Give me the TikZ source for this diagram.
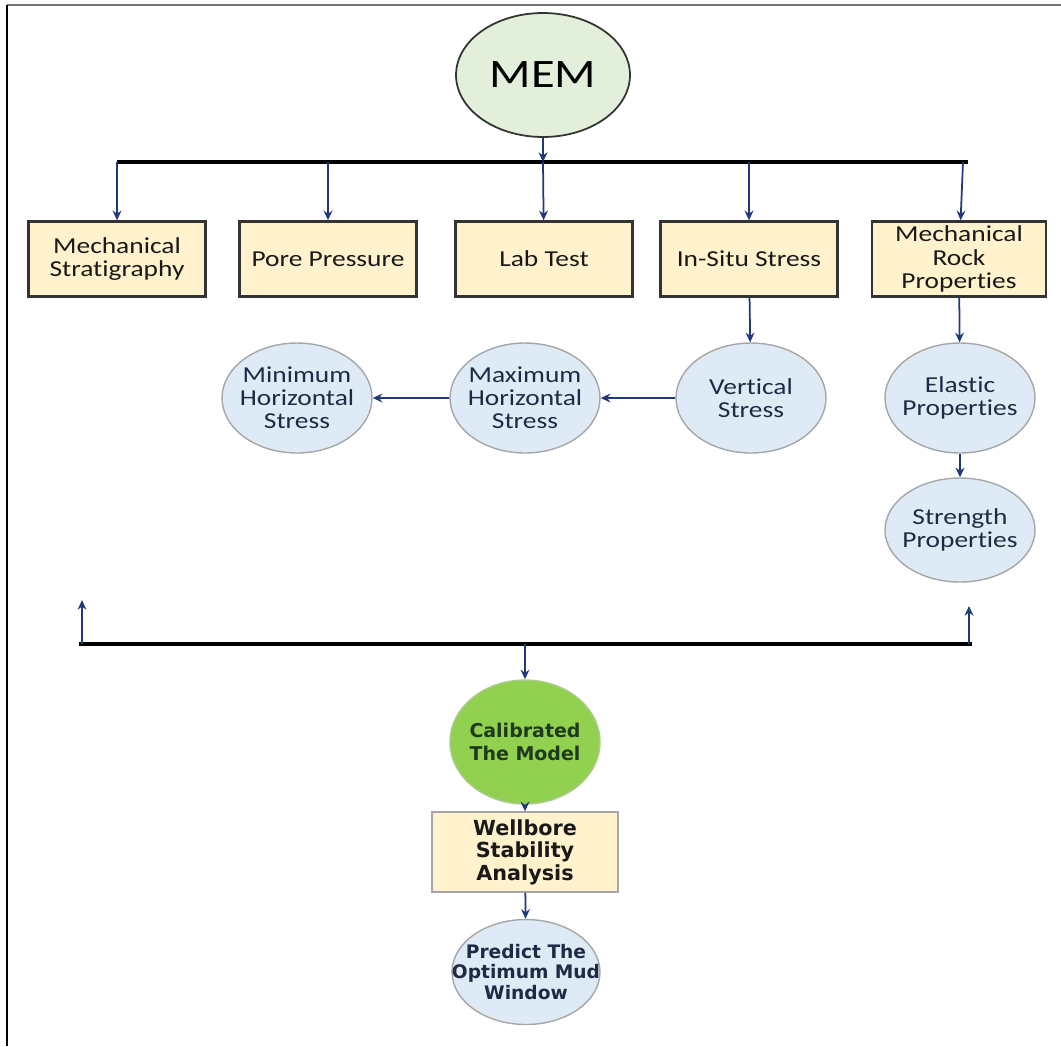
\documentclass[tikz,border=0pt]{standalone}
\usepackage{fontspec}
\setmainfont{Carlito}
\newfontfamily\calib[FakeStretch=1.2,Ligatures=NoCommon]{Carlito}
\newfontfamily\verd{DejaVu Sans}
\usetikzlibrary{arrows.meta,shapes.geometric,positioning}

\definecolor{fondboite}{HTML}{FFF2CC}
\definecolor{fondbulle}{HTML}{DEEBF7}
\definecolor{bleufleche}{HTML}{1F3A7A}
\definecolor{vertclair}{HTML}{E2EFDA}
\definecolor{vertmodele}{HTML}{92D050}
\definecolor{textebulle}{HTML}{1F2A44}
\definecolor{texteverte}{HTML}{1E3A1E}

\newcommand{\fboite}{\calib\fontsize{13}{13.5}\selectfont}
\newcommand{\fbulle}{\calib\fontsize{13}{13}\selectfont}

\tikzset{
  >={Stealth[length=5.5pt,width=5pt]},
  boite/.style={draw=black!80, line width=1.4pt, fill=fondboite,
    minimum width=3.54cm, minimum height=1.5cm, inner sep=1pt,
    align=center, font=\fboite, text=black!90},
  bulle/.style={ellipse, draw=black!35, line width=0.8pt, fill=fondbulle,
    minimum width=3cm, minimum height=2.2cm, inner ysep=0pt, inner xsep=-15pt,
    align=center, font=\fbulle, text=textebulle},
  fleche/.style={->, draw=bleufleche, line width=1pt},
  bus/.style={line width=2pt, black}
}

\begin{document}
\begin{tikzpicture}[x=0.02cm,y=-0.02cm]
  \useasboundingbox (0,0) rectangle (1061,1046);

  % Le cadre
  \draw[black!55, line width=0.8pt] (7,5) -- (1061,5);
  \draw[black, line width=0.8pt] (7,5) -- (7,1046);

  % Le modele
  \node[ellipse, draw=black!80, line width=1pt, fill=vertclair,
    minimum width=3.48cm, minimum height=2.48cm, inner sep=0pt,
    font=\calib\fontsize{23}{25}\selectfont] (mem) at (543,75) {MEM};

  % Les boites
  \node[boite] (strati) at (117,259) {Mechanical\\Stratigraphy};
  \node[boite] (pore) at (328,259) {Pore Pressure};
  \node[boite] (labo) at (544,259) {Lab Test};
  \node[boite] (insitu) at (749,259) {In-Situ Stress};
  \node[boite, minimum width=3.48cm] (roche) at (959,259) {Mechanical\\Rock\\Properties};

  % Les bulles
  \node[bulle] (vert) at (751,398) {Vertical\\Stress};
  \node[bulle] (maxh) at (525,398) {Maximum\\Horizontal\\Stress};
  \node[bulle] (minh) at (297,398) {Minimum\\Horizontal\\Stress};
  \node[bulle] (elast) at (960,398) {Elastic\\Properties};
  \node[bulle, minimum height=2.08cm] (resist) at (960,530) {Strength\\Properties};

  % Le bas
  \node[bulle, draw=vertmodele!80!black!60, fill=vertmodele,
    minimum height=2.48cm, font=\verd\bfseries\fontsize{10.8}{13}\selectfont,
    text=texteverte] (calib) at (525,742) {Calibrated\\The Model};
  \node[boite, draw=black!35, line width=0.8pt, minimum width=3.72cm, minimum height=1.6cm,
    font=\verd\bfseries\fontsize{11.8}{12.8}\selectfont] (puits) at (525,852)
    {Wellbore\\Stability\\Analysis};
  \node[bulle, minimum width=2.96cm, minimum height=2.1cm,
    font=\verd\bfseries\fontsize{10.6}{11.6}\selectfont] (boue) at (526,972)
    {Predict The\\Optimum Mud\\Window};

  % Les barres
  \coordinate (hautG) at (117,162);
  \coordinate (hautD) at (968,162);
  \coordinate (hautM) at (543,162);
  \coordinate (basG) at (79,644);
  \coordinate (basD) at (972,644);
  \coordinate (basM) at (525,644);
  \coordinate (flecheG) at (82,600);
  \coordinate (flecheD) at (969,606);
  \draw[bus] (hautG) -- (hautD);
  \draw[bus] (basG) -- (basD);

  % Les fleches
  \draw[fleche] (mem) -- (hautM);
  \draw[fleche] (hautG) -- (strati);
  \draw[fleche] (pore |- hautM) -- (pore);
  \draw[fleche] (hautM) -- (labo);
  \draw[fleche] (insitu |- hautM) -- (insitu);
  \draw[fleche] (963,162) -- (roche);
  \draw[fleche] (insitu) -- (vert);
  \draw[fleche] (vert) -- (maxh);
  \draw[fleche] (maxh) -- (minh);
  \draw[fleche] (roche) -- (elast);
  \draw[fleche] (elast) -- (resist);
  \draw[fleche] (flecheG |- basM) -- (flecheG);
  \draw[fleche] (flecheD |- basM) -- (flecheD);
  \draw[fleche] (basM) -- (calib);
  \draw[fleche] (calib) -- (puits);
  \draw[fleche] (puits) -- (boue);
\end{tikzpicture}
\end{document}
